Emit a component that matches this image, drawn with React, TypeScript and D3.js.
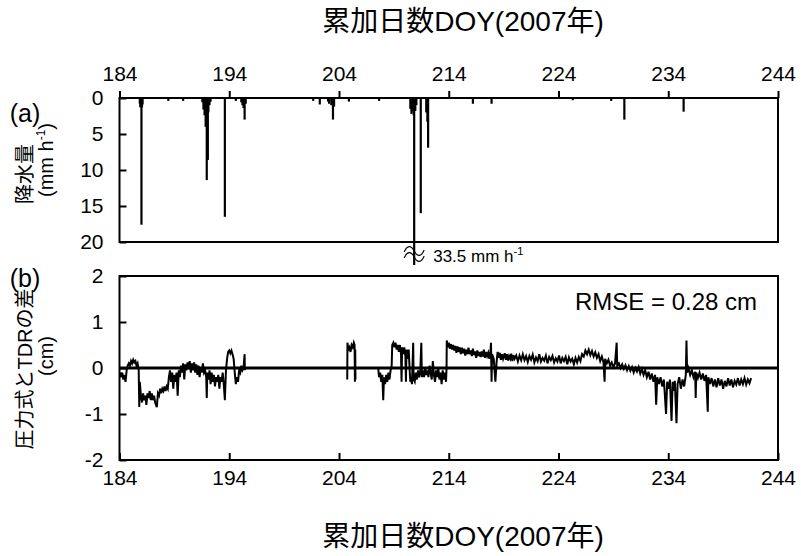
import React, { useEffect, useRef } from 'react';
import * as d3 from 'd3';

// axis ticks
const doyTicks = [184, 194, 204, 214, 224, 234, 244];
const rainTicks = [0, 5, 10, 15, 20];
const diffTicks = [-2, -1, 0, 1, 2];

// hourly rainfall (DOY, mm/h)
const rainDoy = [
  185.85, 185.9, 185.95, 186.0, 186.05, 186.1,
  188.45, 189.8,
  191.55, 191.65, 191.75, 191.85, 191.95, 192.05, 192.1, 192.2, 192.3,
  193.6, 194.6,
  195.1, 195.2, 195.3, 195.4, 195.5,
  201.65, 202.25,
  203.0, 203.1, 203.3, 203.45, 203.55,
  204.9, 207.65,
  210.5, 210.6, 210.7, 210.8, 210.85, 210.95, 211.05,
  211.45,
  211.95, 212.05, 212.12,
  216.2, 217.9, 225.3, 228.8, 230.0, 235.4,
];
const rainMm = [
  0.8, 1.3, 1.2, 17.6, 1.3, 0.9,
  0.4, 0.4,
  0.6, 1.6, 2.4, 4.0, 11.4, 8.6, 2.0, 1.0, 0.5,
  16.5, 0.4,
  0.6, 1.0, 1.4, 3.0, 0.8,
  0.4, 0.9,
  0.5, 0.8, 1.0, 3.0, 1.2,
  0.5, 0.4,
  1.5, 2.2, 1.8, 2.4, 33.5, 1.8, 1.0,
  16.0,
  2.0, 3.3, 6.9,
  0.8, 0.8, 0.3, 0.4, 3.0, 1.9,
];

// pressure gauge minus TDR (cm), three recorded stretches
const diffSeg1: [number, number][] = [
  [184.05, -0.1], [184.15, -0.2], [184.25, -0.1], [184.35, -0.25], [184.45, -0.15], [184.55, -0.3],
  [184.65, -0.05], [184.75, 0.05], [184.85, 0.1], [184.95, 0.05], [185.05, 0.15], [185.15, 0.1],
  [185.25, 0.18], [185.35, 0.12], [185.45, 0.15], [185.55, 0.05], [185.65, 0.1], [185.75, -0.05],
  [185.8, -0.85], [185.85, -0.3], [185.95, -0.6], [186.05, -0.75], [186.15, -0.55], [186.25, -0.7],
  [186.35, -0.6], [186.45, -0.8], [186.55, -0.55], [186.65, -0.65], [186.75, -0.5], [186.85, -0.7],
  [186.95, -0.55], [187.05, -0.7], [187.15, -0.6], [187.25, -0.75], [187.4, -0.85], [187.5, -0.55],
  [187.6, -0.6], [187.7, -0.45], [187.8, -0.55], [187.9, -0.45], [188.0, -0.5], [188.1, -0.4],
  [188.2, -0.5], [188.3, -0.4], [188.4, -0.45], [188.5, -0.2], [188.6, -0.05], [188.7, -0.3],
  [188.8, -0.1], [188.9, -0.45], [189.0, -0.15], [189.1, -0.3], [189.2, -0.1], [189.3, -0.6],
  [189.4, -0.05], [189.5, -0.2], [189.6, 0.05], [189.7, -0.1], [189.8, 0.1], [189.9, -0.25],
  [190.0, 0.08], [190.1, -0.05], [190.2, 0.12], [190.3, 0.02], [190.4, 0.15], [190.5, -0.1],
  [190.6, 0.1], [190.7, -0.05], [190.8, 0.12], [190.9, -0.1], [191.0, 0.08], [191.1, -0.15],
  [191.2, 0.05], [191.3, -0.2], [191.4, 0.0], [191.5, -0.1], [191.6, 0.1], [191.7, -0.1],
  [191.8, -0.05], [191.9, -0.2], [191.95, -0.65], [192.0, -0.1], [192.1, -0.25], [192.2, -0.05],
  [192.3, -0.35], [192.4, -0.1], [192.5, -0.3], [192.6, -0.15], [192.7, -0.4], [192.8, -0.2],
  [192.9, -0.3], [193.0, -0.15], [193.1, -0.45], [193.2, -0.2], [193.3, -0.3], [193.4, -0.1],
  [193.5, -0.35], [193.6, -0.7], [193.7, -0.05], [193.8, 0.2], [193.9, 0.35], [194.0, 0.38],
  [194.1, 0.32], [194.2, 0.38], [194.3, 0.3], [194.4, 0.2], [194.5, -0.1], [194.6, -0.35],
  [194.7, -0.2], [194.8, -0.3], [194.9, -0.05], [195.0, -0.1], [195.1, 0.05], [195.2, -0.05],
  [195.3, 0.0], [195.4, 0.3], [195.42, -0.05],
];

const diffSeg2: [number, number][] = [
  [204.75, -0.25], [204.77, 0.55], [204.85, 0.4], [204.95, 0.45], [205.05, 0.35], [205.15, 0.5],
  [205.25, 0.45], [205.35, 0.55], [205.42, 0.5], [205.45, -0.3], [205.48, 0.4], [205.5, -0.25],
];

const diffSeg3: [number, number][] = [
  [207.57, 0.0], [207.65, -0.2], [207.75, -0.1], [207.85, -0.3], [207.95, -0.15], [208.03, -0.7],
  [208.1, -0.2], [208.2, -0.35], [208.3, -0.15], [208.4, -0.3], [208.5, -0.1], [208.6, -0.25],
  [208.7, -0.05], [208.8, 0.05], [208.85, 0.5], [208.95, 0.55], [209.05, 0.45], [209.15, 0.55],
  [209.25, 0.4], [209.35, 0.5], [209.45, 0.35], [209.55, 0.5], [209.65, 0.3], [209.7, -0.3],
  [209.75, 0.45], [209.85, 0.3], [209.95, 0.45], [210.05, 0.25], [210.1, -0.3], [210.15, 0.4],
  [210.25, 0.2], [210.35, 0.4], [210.45, -0.1], [210.5, -0.3], [210.55, -0.2], [210.65, -0.35],
  [210.76, 0.55], [210.8, -0.25], [210.9, -0.3], [211.0, -0.1], [211.1, -0.25], [211.2, -0.05],
  [211.3, -0.2], [211.4, -0.1], [211.5, 0.55], [211.55, -0.2], [211.65, -0.05], [211.75, -0.2],
  [211.85, 0.0], [211.95, -0.15], [212.05, -0.05], [212.15, -0.2], [212.25, 0.05], [212.35, -0.1],
  [212.45, -0.25], [212.55, 0.15], [212.65, -0.15], [212.75, -0.3], [212.85, -0.05], [212.95, -0.2],
  [213.05, 0.0], [213.15, -0.25], [213.25, -0.1], [213.35, -0.35], [213.45, -0.05], [213.55, -0.25],
  [213.65, -0.1], [213.75, -0.3], [213.8, 0.0], [213.82, 0.6], [213.9, 0.45], [214.0, 0.55],
  [214.1, 0.42], [214.2, 0.52], [214.3, 0.4], [214.4, 0.5], [214.5, 0.38], [214.6, 0.48],
  [214.7, 0.33], [214.8, 0.47], [214.9, 0.35], [215.0, 0.45], [215.1, 0.3], [215.2, 0.44],
  [215.3, 0.32], [215.4, 0.42], [215.5, 0.27], [215.6, 0.4], [215.7, 0.3], [215.8, 0.44],
  [215.9, 0.3], [216.0, 0.38], [216.1, 0.26], [216.2, 0.42], [216.3, 0.28], [216.4, 0.36],
  [216.5, 0.22], [216.6, 0.38], [216.7, 0.26], [216.8, 0.35], [216.9, 0.24], [217.0, 0.36],
  [217.1, 0.25], [217.2, 0.4], [217.3, 0.22], [217.4, 0.35], [217.5, 0.26], [217.6, 0.33],
  [217.7, 0.2], [217.8, 0.36], [217.85, 0.55], [217.9, -0.3], [217.95, 0.3], [218.1, 0.2],
  [218.25, -0.3], [218.35, 0.1], [218.45, 0.35], [218.55, 0.22], [218.65, 0.33], [218.75, 0.18],
  [218.85, 0.3], [218.95, 0.2], [219.1, 0.32], [219.2, 0.18], [219.3, 0.3], [219.4, 0.16],
  [219.5, 0.26], [219.6, 0.2], [219.7, 0.31], [219.8, 0.15], [219.9, 0.28], [220.0, 0.2],
  [220.15, 0.27], [220.3, 0.14], [220.45, 0.27], [220.6, 0.17], [220.75, 0.3], [220.9, 0.17],
  [221.05, 0.26], [221.2, 0.13], [221.35, 0.26], [221.5, 0.18], [221.65, 0.29], [221.8, 0.12],
  [221.95, 0.23], [222.1, 0.15], [222.25, 0.3], [222.4, 0.14], [222.55, 0.22], [222.7, 0.16],
  [222.85, 0.27], [223.0, 0.1], [223.15, 0.24], [223.3, 0.17], [223.45, 0.26], [223.6, 0.12],
  [223.75, 0.21], [223.9, 0.14], [224.05, 0.27], [224.2, 0.1], [224.35, 0.22], [224.5, 0.15],
  [224.65, 0.24], [224.8, 0.08], [224.95, 0.23], [225.1, 0.14], [225.25, 0.2], [225.4, 0.08],
  [225.55, 0.22], [225.7, 0.12], [225.85, 0.24], [226.0, 0.15], [226.15, 0.3], [226.3, 0.25],
  [226.45, 0.38], [226.6, 0.3], [226.75, 0.4], [226.9, 0.28], [227.05, 0.37], [227.2, 0.25],
  [227.35, 0.34], [227.5, 0.22], [227.65, 0.3], [227.8, 0.15], [227.95, 0.25], [228.1, 0.12],
  [228.2, -0.3], [228.25, 0.2], [228.4, 0.1], [228.55, 0.18], [228.7, 0.05], [228.85, 0.12],
  [229.0, 0.02], [229.15, 0.1], [229.3, 0.55], [229.35, 0.05], [229.5, 0.1], [229.65, 0.0],
  [229.8, 0.08], [229.95, -0.02], [230.1, 0.06], [230.25, -0.05], [230.4, 0.04], [230.55, -0.06],
  [230.7, 0.02], [230.85, -0.1], [231.0, 0.0], [231.15, -0.08], [231.3, 0.02], [231.45, -0.12],
  [231.6, -0.02], [231.75, -0.15], [231.9, -0.05], [232.05, -0.2], [232.2, -0.08], [232.35, -0.25],
  [232.5, -0.12], [232.65, -0.3], [232.8, -0.15], [232.9, -0.8], [233.0, -0.2], [233.15, -0.35],
  [233.3, -0.2], [233.45, -0.4], [233.6, -0.25], [233.8, -1.0], [233.9, -0.3], [234.05, -0.45],
  [234.15, -0.25], [234.3, -1.15], [234.4, -0.3], [234.5, -0.5], [234.6, -0.28], [234.75, -1.2],
  [234.85, -0.35], [235.0, -0.2], [235.15, -0.45], [235.3, -0.25], [235.45, -0.4], [235.6, -0.15],
  [235.66, 0.6], [235.72, -0.1], [235.85, 0.0], [236.0, -0.15], [236.15, -0.05], [236.3, -0.2],
  [236.45, -0.08], [236.5, -0.65], [236.55, -0.1], [236.7, -0.22], [236.85, -0.1], [237.0, -0.25],
  [237.15, -0.12], [237.3, -0.28], [237.45, -0.15], [237.6, -0.95], [237.65, -0.2], [237.8, -0.35],
  [237.95, -0.22], [238.1, -0.4], [238.25, -0.25], [238.4, -0.42], [238.55, -0.22], [238.7, -0.38],
  [238.85, -0.25], [239.0, -0.45], [239.15, -0.28], [239.3, -0.4], [239.45, -0.22], [239.6, -0.38],
  [239.75, -0.25], [239.9, -0.42], [240.05, -0.28], [240.2, -0.36], [240.35, -0.22], [240.5, -0.38],
  [240.65, -0.25], [240.8, -0.35], [240.95, -0.22], [241.1, -0.36], [241.25, -0.25], [241.4, -0.33],
  [241.55, -0.22],
];

const FONT = "'Liberation Sans', Arial, 'Noto Sans CJK JP', sans-serif";

const App: React.FC = () => {
  const chartRef = useRef<SVGSVGElement | null>(null);

  useEffect(() => {
    const svg = d3.select(chartRef.current);
    svg.selectAll('*').remove();

    const x = d3.scaleLinear().domain([184, 244]).range([119.5, 778]);
    const yRain = d3.scaleLinear().domain([0, 20]).range([98, 242]);
    const yDiff = d3.scaleLinear().domain([-2, 2]).range([460, 276]);

    svg.append('rect').attr('width', 801).attr('height', 556).attr('fill', 'white');

    // --- (a) rainfall ---
    const rain = rainDoy.map((d, i) => ({ doy: d, mm: rainMm[i] }));
    const breakY = yRain(20) + 23;
    svg.append('g')
      .selectAll('line')
      .data(rain)
      .enter().append('line')
      .attr('x1', d => x(d.doy))
      .attr('x2', d => x(d.doy))
      .attr('y1', yRain(0))
      .attr('y2', d => (d.mm > 20 ? breakY : yRain(d.mm)))
      .attr('stroke', 'black')
      .attr('stroke-width', 2.2);

    svg.append('rect')
      .attr('x', x(184)).attr('y', yRain(0))
      .attr('width', x(244) - x(184)).attr('height', yRain(20) - yRain(0))
      .attr('fill', 'none').attr('stroke', 'black').attr('stroke-width', 2);

    const topAxis = svg.append('g')
      .attr('transform', `translate(0,${yRain(0)})`)
      .call(d3.axisTop(x).tickValues(doyTicks).tickSize(7).tickPadding(10).tickFormat(d => String(d)));
    topAxis.select('.domain').remove();

    const rainAxis = svg.append('g')
      .attr('transform', `translate(${x(184)},0)`)
      .call(d3.axisLeft(yRain).tickValues(rainTicks).tickSize(-7).tickPadding(16).tickFormat(d => String(d)));
    rainAxis.select('.domain').remove();

    // break mark for the 33.5 mm/h hour
    const big = rain.find(d => d.mm > 20)!;
    const bx = x(big.doy);
    [breakY - 15, breakY - 9].forEach(cy => {
      svg.append('path')
        .attr('d', `M${bx - 10},${cy + 2} c3,-7 7,-7 10,-1 s7,6 10,-1`)
        .attr('fill', 'none').attr('stroke', 'black').attr('stroke-width', 1.1);
    });
    const bt = svg.append('text')
      .attr('x', bx + 19).attr('y', breakY - 3)
      .attr('font-size', 17).attr('font-family', FONT);
    bt.append('tspan').text(`${big.mm} mm h`);
    bt.append('tspan').attr('dy', -7).attr('font-size', 11).text('-1');

    // --- (b) difference ---
    svg.append('line')
      .attr('x1', x(184)).attr('x2', x(244))
      .attr('y1', yDiff(0)).attr('y2', yDiff(0))
      .attr('stroke', 'black').attr('stroke-width', 3);

    const line = d3.line<[number, number]>().x(d => x(d[0])).y(d => yDiff(d[1]));
    [diffSeg1, diffSeg2, diffSeg3].forEach(seg => {
      svg.append('path')
        .attr('d', line(seg))
        .attr('fill', 'none')
        .attr('stroke', 'black')
        .attr('stroke-width', 2);
    });

    svg.append('rect')
      .attr('x', x(184)).attr('y', yDiff(2))
      .attr('width', x(244) - x(184)).attr('height', yDiff(-2) - yDiff(2))
      .attr('fill', 'none').attr('stroke', 'black').attr('stroke-width', 2);

    const bottomAxis = svg.append('g')
      .attr('transform', `translate(0,${yDiff(-2)})`)
      .call(d3.axisBottom(x).tickValues(doyTicks).tickSize(-7).tickPadding(10).tickFormat(d => String(d)));
    bottomAxis.select('.domain').remove();

    const diffAxis = svg.append('g')
      .attr('transform', `translate(${x(184)},0)`)
      .call(d3.axisLeft(yDiff).tickValues(diffTicks).tickSize(-7).tickPadding(16).tickFormat(d => String(d)));
    diffAxis.select('.domain').remove();

    [topAxis, rainAxis, bottomAxis, diffAxis].forEach(ax => {
      ax.selectAll('line').attr('stroke-width', 2);
      ax.selectAll('text').style('font-size', '21px').style('font-family', FONT).attr('fill', 'black');
    });

    // --- labels ---
    const addText = (tx: number, ty: number, s: string, size: number, rot = false) =>
      svg.append('text')
        .attr('transform', rot ? `translate(${tx},${ty}) rotate(-90)` : `translate(${tx},${ty})`)
        .attr('text-anchor', 'middle')
        .style('font-size', `${size}px`)
        .style('font-family', FONT)
        .text(s);

    addText(463, 31, '累加日数DOY(2007年)', 28);
    addText(463, 546, '累加日数DOY(2007年)', 28);
    addText(25, 122, '(a)', 25);
    addText(25, 287, '(b)', 25);

    addText(32, 174, '降水量', 20, true);
    const mmLab = svg.append('text')
      .attr('transform', 'translate(53,160) rotate(-90)')
      .attr('text-anchor', 'middle')
      .style('font-size', '20px').style('font-family', FONT);
    mmLab.append('tspan').text('(mm h');
    mmLab.append('tspan').attr('dy', -8).style('font-size', '12px').text('-1');
    mmLab.append('tspan').attr('dy', 8).text(')');

    addText(32, 369, '圧力式とTDRの差', 20, true);
    addText(53, 356, '(cm)', 20, true);

    svg.append('text')
      .attr('x', 757).attr('y', 310)
      .attr('text-anchor', 'end')
      .style('font-size', '24px')
      .style('font-family', FONT)
      .text('RMSE = 0.28 cm');
  }, []);

  return (
    <svg
      ref={chartRef}
      width={801}
      height={556}
      style={{ position: 'absolute', left: 0, top: 0 }}
    />
  );
};

export default App;
